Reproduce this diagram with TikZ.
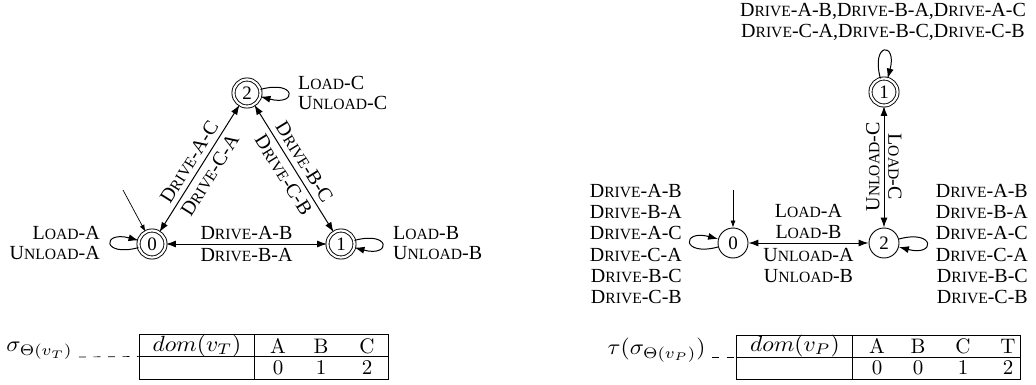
\documentclass[tikz,border=0pt]{standalone}
\usepackage{fontspec}
\newfontfamily\lblfont{Liberation Serif}
\usetikzlibrary{arrows.meta}
% small caps built from the serif family
\newcommand\scpart[1]{{\fontsize{15.6}{16}\selectfont #1}}
\newcommand\Drv{D\scpart{RIVE}}
\newcommand\Ld{L\scpart{OAD}}
\newcommand\Uld{U\scpart{NLOAD}}
\begin{document}
\begin{tikzpicture}[x=1pt,y=-1pt,
  lbl/.style={font=\lblfont\fontsize{20}{20.5}\selectfont, inner sep=1pt},
  stack/.style={font=\lblfont\fontsize{20}{21.2}\selectfont, inner sep=1pt},
  acc/.style={circle, draw, line width=0.9pt, double, double distance=2.2pt,
    minimum size=27pt, inner sep=0pt, font=\lblfont\fontsize{19}{19}\selectfont},
  plain/.style={circle, draw, line width=0.9pt, minimum size=30pt, inner sep=0pt,
    font=\lblfont\fontsize{19}{19}\selectfont},
  tr/.style={line width=1pt, {Latex[length=10pt,width=7pt]}-{Latex[length=10pt,width=7pt]}},
  lp/.style={line width=1pt, -{Latex[length=10pt,width=7pt]}, loop, min distance=38pt},
  init/.style={line width=0.7pt, -{Latex[length=7pt,width=5pt]}},
  tab/.style={font=\fontsize{10}{10}\selectfont, inner sep=0pt, scale=2.1, transform shape},
  tmath/.style={font=\fontsize{10}{10}\selectfont, inner sep=0pt, xscale=2.35, yscale=2.2, transform shape},
  tline/.style={line width=0.9pt}]
\useasboundingbox (0,0) rectangle (1036,385);

% ---- transport automaton ----
\node[acc] (t0) at (152,244) {0};
\node[acc] (t1) at (341,244) {1};
\node[acc] (t2) at (247,93) {2};
\coordinate (ti) at (123,190);
\draw[init] (ti) -- (t0);
\draw[tr] (t0) -- (t1)
  node[lbl, midway, above=3pt] {\Drv-A-B}
  node[lbl, midway, below=3pt] {\Drv-B-A};
\draw[tr] (t0) -- (t2)
  node[lbl, midway, sloped, above=4pt] {\Drv-A-C}
  node[lbl, midway, sloped, below=4pt] {\Drv-C-A};
\draw[tr] (t2) -- (t1)
  node[lbl, midway, sloped, above=4pt] {\Drv-B-C}
  node[lbl, midway, sloped, below=4pt] {\Drv-C-B};
\draw[lp, out=195, in=165] (t0) to (t0);
\draw[lp, out=15, in=-15] (t1) to (t1);
\draw[lp, out=15, in=-15] (t2) to (t2);
\node[lbl, align=right, anchor=east] (l0) at (101,243) {\Ld-A\\\Uld-A};
\node[lbl, align=left, anchor=west] (l1) at (392,243) {\Ld-B\\\Uld-B};
\node[lbl, align=left, anchor=west] (l2) at (297,93) {\Ld-C\\\Uld-C};

% ---- package automaton ----
\node[plain] (p0) at (733,243) {0};
\node[plain] (p2) at (884,243) {2};
\node[acc] (p1) at (884,92) {1};
\coordinate (pi) at (733,190);
\draw[init] (pi) -- (p0);
\draw[tr] (p0) -- (p2)
  node[lbl, midway, above=3pt, align=center] {\Ld-A\\\Ld-B}
  node[lbl, midway, below=4pt, align=center] {\Uld-A\\\Uld-B};
\draw[tr] (p2) -- (p1)
  node[lbl, midway, sloped, above=3pt] {\Uld-C};
\path (p1) -- (p2)
  node[lbl, midway, sloped, above=3pt] {\Ld-C};
\draw[lp, out=195, in=165] (p0) to (p0);
\draw[lp, out=15, in=-15] (p2) to (p2);
\draw[lp, out=105, in=75] (p1) to (p1);
\node[stack, align=right, anchor=east] (q0) at (683,244)
  {\Drv-A-B\\\Drv-B-A\\\Drv-A-C\\\Drv-C-A\\\Drv-B-C\\\Drv-C-B};
\node[stack, align=right, anchor=east] (q2) at (1029,244)
  {\Drv-A-B\\\Drv-B-A\\\Drv-A-C\\\Drv-C-A\\\Drv-B-C\\\Drv-C-B};
\node[stack, align=center] (q1) at (883,22)
  {\Drv-A-B,\Drv-B-A,\Drv-A-C\\\Drv-C-A,\Drv-B-C,\Drv-C-B};

% ---- value tables ----
\node[draw, tline, minimum width=249pt, minimum height=45pt, inner sep=0pt] (tabT) at (263.5,356.5) {};
\draw[tline] (tabT.west) -- (tabT.east);
\draw[tline] (254,334) -- (254,379);
\node[tmath] (hT) at (197,346) {$dom(v_T)$};
\node[tab] (aT) at (278,346) {A};
\node[tab] (bT) at (321,346) {B};
\node[tab] (cT) at (367,346) {C};
\node[tab] (a0) at (278,368) {0};
\node[tab] (b0) at (321,368) {1};
\node[tab] (c0) at (367,368) {2};
\node[tmath, anchor=west] (sT) at (6,351) {$\sigma_{\Theta(v_T)}$};
\draw[tline, line width=0.7pt, dash pattern=on 7pt off 7.5pt] (79,357) -- (tabT.west);

\node[draw, tline, minimum width=284pt, minimum height=44pt, inner sep=0pt] (tabP) at (878,357) {};
\draw[tline] (tabP.west) -- (tabP.east);
\draw[tline] (852,335) -- (852,379);
\node[tmath] (hP) at (795,346) {$dom(v_P)$};
\node[tab] (aP) at (877,346) {A};
\node[tab] (bP) at (918,346) {B};
\node[tab] (cP) at (963,346) {C};
\node[tab] (tP) at (1008,346) {T};
\node[tab] (a1) at (877,368) {0};
\node[tab] (b1) at (918,368) {0};
\node[tab] (c1) at (963,368) {1};
\node[tab] (t1v) at (1008,368) {2};
\node[tmath, anchor=east] (sP) at (706,350) {$\tau(\sigma_{\Theta(v_P)})$};
\draw[tline, line width=0.7pt, dash pattern=on 7pt off 7.5pt] (712,357) -- (tabP.west);
\end{tikzpicture}
\end{document}
